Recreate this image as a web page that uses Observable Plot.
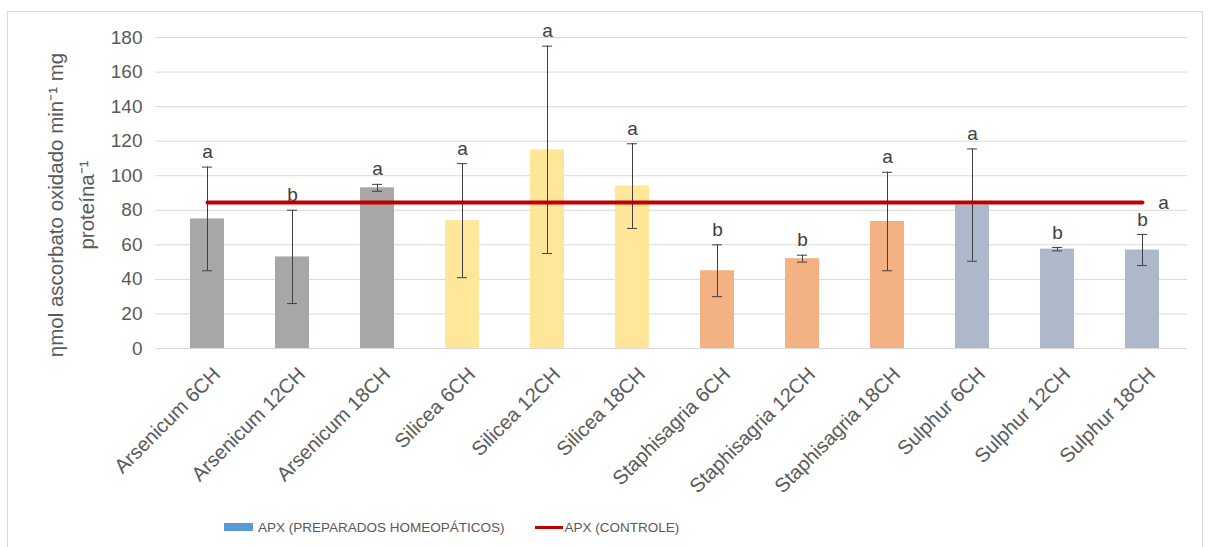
<!DOCTYPE html>
<html>
<head>
<meta charset="utf-8">
<script src="https://cdn.jsdelivr.net/npm/d3@7"></script>
<script src="https://cdn.jsdelivr.net/npm/@observablehq/plot@0.6"></script>
<style>
  html, body { margin: 0; padding: 0; background: #fff; }
  #wrap { position: relative; width: 1208px; height: 547px; overflow: hidden; }
  #frame { position: absolute; left: 7px; top: 11px; width: 1196px; height: 560px; border: 1px solid #d9d9d9; box-sizing: border-box; pointer-events: none; }
  #legend { position: absolute; left: 224px; top: 514px; height: 26px; display: flex; align-items: center; font-family: "Liberation Sans", Arial, sans-serif; font-size: 13.5px; color: #595959; white-space: nowrap; }
  .sw-bar { display: inline-block; width: 29px; height: 8px; background: #5b9bd5; margin-right: 5px; }
  .sw-line { display: inline-block; width: 28px; height: 3px; background: #c00000; margin-left: 30px; margin-right: 2px; }
</style>
</head>
<body>
<div id="wrap">
  <div id="chart"></div>
  <div id="frame"></div>
  <div id="legend"><span class="sw-bar"></span>APX (PREPARADOS HOMEOPÁTICOS)<span class="sw-line"></span>APX (CONTROLE)</div>
</div>
<script>
// ---- data ----
const categories = ["Arsenicum 6CH", "Arsenicum 12CH", "Arsenicum 18CH",
  "Silicea 6CH", "Silicea 12CH", "Silicea 18CH",
  "Staphisagria 6CH", "Staphisagria 12CH", "Staphisagria 18CH",
  "Sulphur 6CH", "Sulphur 12CH", "Sulphur 18CH"];
const groups = ["Arsenicum", "Arsenicum", "Arsenicum", "Silicea", "Silicea", "Silicea",
  "Staphisagria", "Staphisagria", "Staphisagria", "Sulphur", "Sulphur", "Sulphur"];
const values = [75, 53, 93, 74, 115, 94, 45, 52, 73.5, 83, 57.5, 57];
const errors = [30, 27, 2, 33, 60, 24.5, 15, 2, 28.5, 32.5, 1, 9];
const letters = ["a", "b", "a", "a", "a", "a", "b", "b", "a", "a", "b", "b"];
const controlValue = 84.5;
const controlLetter = "a";
const groupNames = ["Arsenicum", "Silicea", "Staphisagria", "Sulphur"];
const groupColors = ["#a8a6a6", "#ffe699", "#f4b183", "#adb9ca"];
const yTicks = [0, 20, 40, 60, 80, 100, 120, 140, 160, 180];
const yTitle = "ηmol ascorbato oxidado min⁻¹ mg\nproteína⁻¹";

const data = categories.map((c, i) => ({
  name: c, group: groups[i], value: values[i],
  lo: values[i] - errors[i], hi: values[i] + errors[i], letter: letters[i]
}));
const control = categories.map(c => ({name: c, value: controlValue}));

const chart = Plot.plot({
  width: 1208,
  height: 505,
  marginLeft: 155,
  marginRight: 21,
  marginTop: 37,
  marginBottom: 157,
  style: {fontFamily: "'Liberation Sans', Arial, sans-serif", fontSize: "19px", color: "#595959", background: "transparent"},
  x: {domain: categories, padding: 0.6, paddingOuter: 0.3, range: [160, 1188], axis: null},
  y: {domain: [0, 180], ticks: yTicks, tickSize: 0, tickPadding: 13, label: null},
  color: {domain: groupNames, range: groupColors},
  marks: [
    Plot.ruleY(yTicks, {stroke: "#d9d9d9", strokeWidth: 1}),
    Plot.barY(data, {x: "name", y: "value", fill: "group"}),
    Plot.ruleX(data, {x: "name", y1: "lo", y2: "hi", stroke: "#3f3f3f", strokeWidth: 1}),
    Plot.tickY(data, {x: "name", y: "hi", stroke: "#3f3f3f", insetLeft: 12, insetRight: 12}),
    Plot.tickY(data, {x: "name", y: "lo", stroke: "#3f3f3f", insetLeft: 12, insetRight: 12}),
    Plot.text(data, {x: "name", y: "hi", text: "letter", dy: -15, fontSize: 19, fill: "#404040"}),
    Plot.lineY(control, {x: "name", y: "value", stroke: "#c00000", strokeWidth: 4}),
    Plot.text([control[control.length - 1]], {x: "name", y: "value", text: () => controlLetter, dx: 21, fontSize: 19, fill: "#404040"}),
    Plot.text(categories, {x: d => d, frameAnchor: "bottom", text: d => d, rotate: -45, textAnchor: "end", lineAnchor: "top", dx: 4, dy: 17, fontSize: 20, fill: "#595959"}),
    Plot.text([yTitle], {frameAnchor: "left", text: d => d, rotate: -90, textAnchor: "middle", dx: -87, dy: 12, fontSize: 20.5, lineHeight: 1.5, fill: "#595959"})
  ]
});
document.getElementById("chart").appendChild(chart);
</script>
</body>
</html>
